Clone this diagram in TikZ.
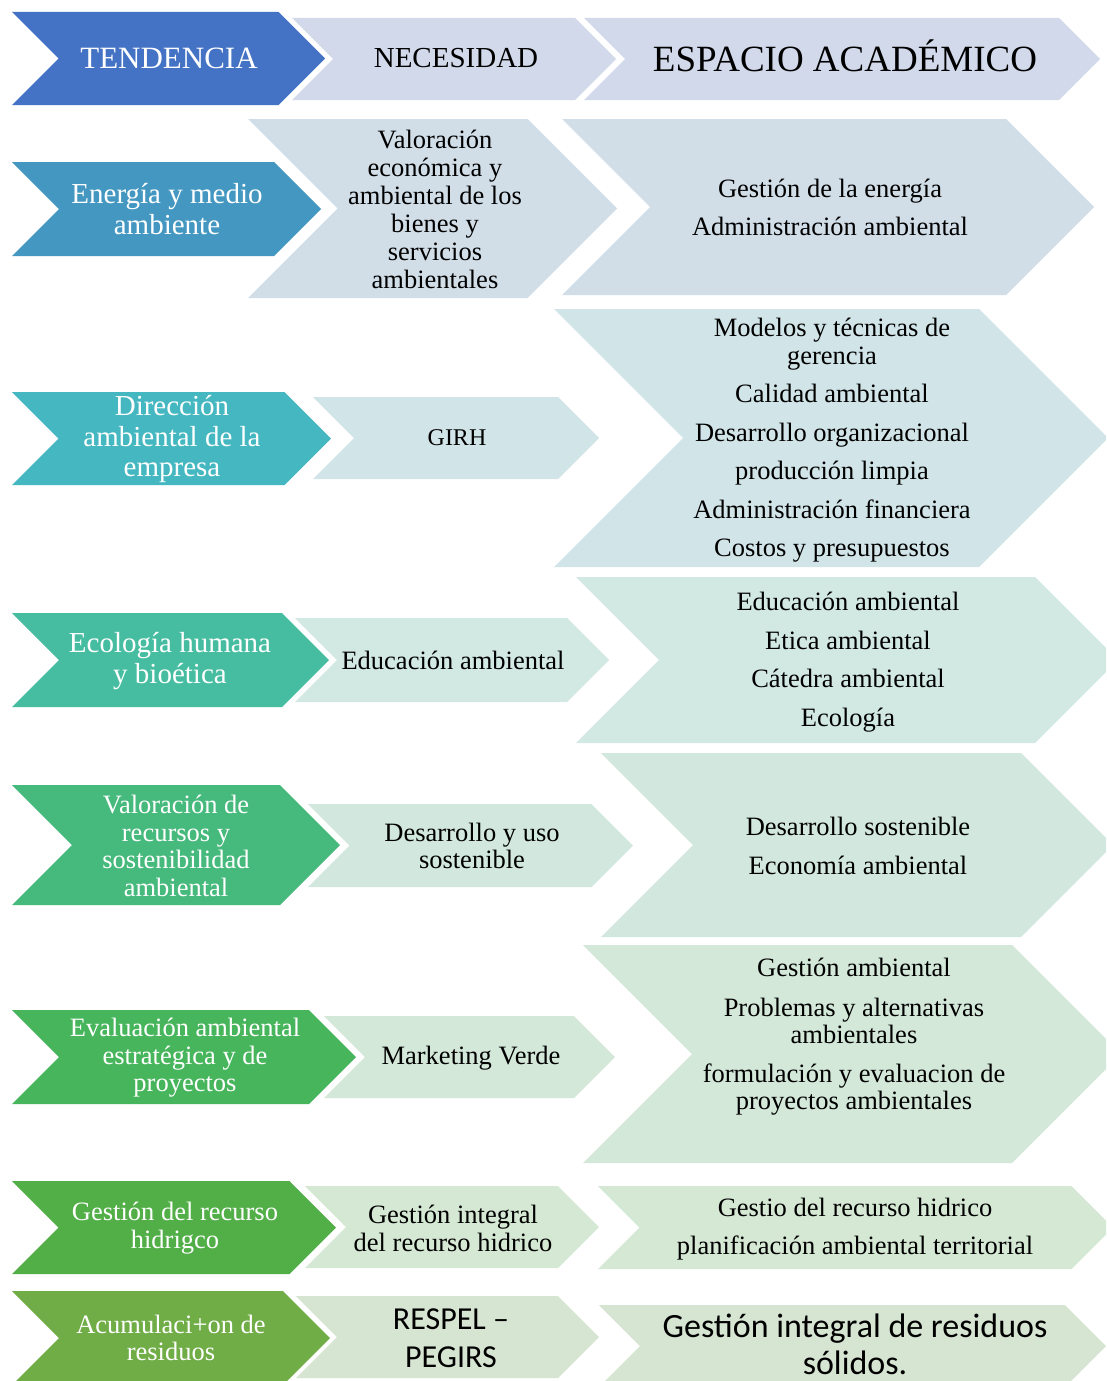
\documentclass[tikz,border=0pt]{standalone}
\usepackage{fontspec}
\setmainfont{Liberation Serif}
\newfontfamily\calfont{Carlito}
\definecolor{c0}{HTML}{4472C4}
\definecolor{l0}{HTML}{D2D9EB}
\definecolor{c1}{HTML}{4397C1}
\definecolor{l1}{HTML}{D1DEE8}
\definecolor{c2}{HTML}{45B7C1}
\definecolor{l2}{HTML}{D1E4E8}
\definecolor{c3}{HTML}{46BDA0}
\definecolor{l3}{HTML}{D2E8E3}
\definecolor{c4}{HTML}{46B97C}
\definecolor{l4}{HTML}{D2E8DE}
\definecolor{c5}{HTML}{47B55C}
\definecolor{l5}{HTML}{D3E8D9}
\definecolor{c6}{HTML}{52AF48}
\definecolor{l6}{HTML}{D5E8D4}
\definecolor{c7}{HTML}{70AD47}
\definecolor{l7}{HTML}{D6E4D2}
% chevron: left x, top y, tip x, bottom y, colour
\newcommand{\chev}[5]{%
  \fill[#5] (#1,#2) -- ({#3-(#4-#2)/2},#2) -- (#3,{(#2+#4)/2}) -- ({#3-(#4-#2)/2},#4) -- (#1,#4) -- ({#1+(#4-#2)/2},{(#2+#4)/2}) -- cycle;}
\newcommand{\bodyf}{\fontsize{26.5}{28}\selectfont}
\newcommand{\bigleft}{\fontsize{29}{30.5}\selectfont}
\newcommand{\smleft}{\fontsize{26.5}{27.5}\selectfont}
\tikzset{
  txt/.style={align=center, inner sep=0pt, text=black, font=\bodyf},
  wtxt/.style={align=center, inner sep=0pt, text=white, font=\smleft},
}
\begin{document}
\begin{tikzpicture}[x=1pt,y=-1pt]
\clip (0,0) rectangle (1106,1381);
\fill[white] (0,0) rectangle (1106,1381);
% header
\chev{12}{12}{325}{105}{c0}
\chev{292}{18}{616}{100}{l0}
\chev{584}{18}{1100}{100}{l0}
% row 1
\chev{12}{162}{321}{256}{c1}
\chev{248}{119}{617}{298}{l1}
\chev{562}{119}{1094}{295}{l1}
% row 2
\chev{12}{392}{331}{485}{c2}
\chev{313}{397}{599}{479}{l2}
\chev{554}{309}{1108}{567}{l2}
% row 3
\chev{12}{613}{329}{707}{c3}
\chev{295}{618}{609}{702}{l3}
\chev{576}{577}{1118}{743}{l3}
% row 4
\chev{12}{785}{340}{905}{c4}
\chev{308}{804}{633}{887}{l4}
\chev{601}{753}{1113}{937}{l4}
% row 5
\chev{12}{1010}{356}{1104}{c5}
\chev{324}{1016}{615}{1098}{l5}
\chev{583}{945}{1121}{1163}{l5}
% row 6
\chev{12}{1181}{336}{1274}{c6}
\chev{305}{1186}{599}{1268}{l6}
\chev{598}{1186}{1113}{1269}{l6}
% row 7
\chev{12}{1291}{330}{1385}{c7}
\chev{296}{1296}{599}{1378}{l7}
\chev{599}{1305}{1106}{1387}{l7}
% texts
\node[wtxt, font=\fontsize{31}{33}\selectfont] (h1) at (169,58) {TENDENCIA};
\node[txt, font=\fontsize{29}{31}\selectfont] (h2) at (456,58) {NECESIDAD};
\node[txt, font=\fontsize{37}{39}\selectfont] (h3) at (845,56) {ESPACIO ACADÉMICO};
\node[wtxt, font=\bigleft] (a1) at (167,209) {Energía y medio\\ambiente};
\node[txt] (b1) at (435,209) {Valoración\\económica y\\ambiental de los\\bienes y\\servicios\\ambientales};
\node[txt] (e1) at (830,207) {Gestión de la energía\\[10pt]Administración ambiental};
\node[wtxt, font=\bigleft] (a2) at (172,439) {Dirección\\ambiental de la\\empresa};
\node[txt, font=\fontsize{24}{26}\selectfont] (b2) at (457,438) {GIRH};
\node[txt] (e2) at (832,440) {Modelos y técnicas de\\gerencia\\[10.5pt]Calidad ambiental\\[10.5pt]Desarrollo organizacional\\[10.5pt]producción limpia\\[10.5pt]Administración financiera\\[10.5pt]Costos y presupuestos};
\node[wtxt, font=\bigleft] (a3) at (170,661) {Ecología humana\\y bioética};
\node[txt] (b3) at (453,660) {Educación ambiental};
\node[txt] (e3) at (848,662) {Educación ambiental\\[10.5pt]Etica ambiental\\[10.5pt]Cátedra ambiental\\[10.5pt]Ecología};
\node[wtxt] (a4) at (176,846) {Valoración de\\recursos y\\sostenibilidad\\ambiental};
\node[txt, font=\fontsize{26.5}{27}\selectfont] (b4) at (472,846) {Desarrollo y uso\\sostenible};
\node[txt] (e4) at (858,846) {Desarrollo sostenible\\[11pt]Economía ambiental};
\node[wtxt] (a5) at (185,1058) {Evaluación ambiental\\estratégica y de\\proyectos};
\node[txt] (b5) at (471,1058) {Marketing Verde};
\node[txt, font=\fontsize{26.5}{27}\selectfont] (e5) at (854,1037) {Gestión ambiental\\[13pt]Problemas y alternativas\\ambientales\\[12pt]formulación y evaluacion de\\proyectos ambientales};
\node[wtxt] (a6) at (175,1228) {Gestión del recurso\\hidrigco};
\node[txt] (b6) at (453,1228) {Gestión integral\\del recurso hidrico};
\node[txt] (e6) at (855,1229) {Gestio del recurso hidrico\\[10pt]planificación ambiental territorial};
\node[wtxt] (a7) at (171,1338) {Acumulaci+on de\\residuos};
\node[txt, font=\calfont\fontsize{32}{38}\selectfont] (b7) at (451,1338) {RESPEL –\\PEGIRS};
\node[txt, font=\calfont\fontsize{34}{37}\selectfont] (e7) at (855,1344) {Gestión integral de residuos\\sólidos.};
\end{tikzpicture}
\end{document}
